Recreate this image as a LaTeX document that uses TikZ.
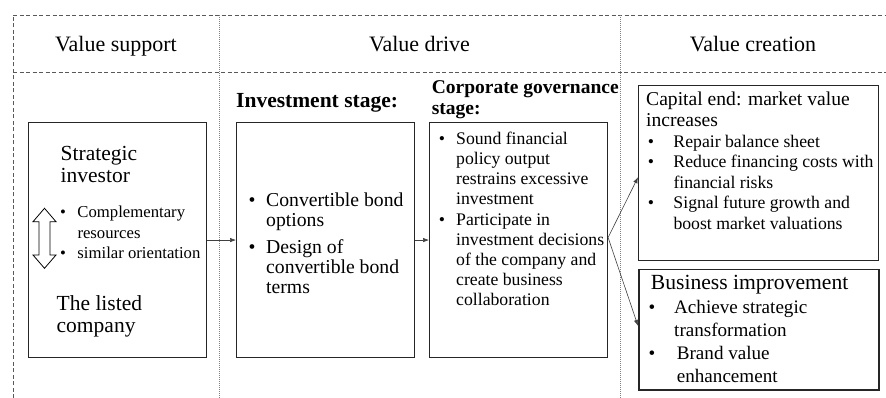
\documentclass[tikz,border=0pt]{standalone}
\usepackage{fontspec}
\usetikzlibrary{arrows.meta}
\setmainfont{Liberation Serif}
\newcommand{\bitem}[1]{\makebox[#1][l]{\textbullet}}
\newcommand{\bpad}[1]{\hspace*{#1}}
\newcommand{\fsz}[2]{\fontsize{#1}{#2}\selectfont}

\begin{document}
\begin{tikzpicture}[x=1pt,y=-1pt]
	\tikzstyle{frame}=[draw=black!65,dash pattern=on 4pt off 2.5pt,line width=0.8pt]
	\tikzstyle{col}=[draw=black!50,dash pattern=on 1pt off 1pt,line width=0.8pt]
	\tikzstyle{box}=[draw=black!85,line width=1.1pt,inner sep=0,anchor=north west]
	\tikzstyle{txt}=[inner sep=0,anchor=north west,align=left]
	\tikzstyle{edge}=[-{Latex[length=6pt,width=4.5pt]},draw=black!75,line width=0.6pt]
	
	\useasboundingbox (0,0) rectangle (886,398);
	
	% frame and column rules
	\draw[frame] (13,398) -- (13,15) -- (886,15);
	\draw[frame] (13,72) -- (886,72);
	\draw[col] (219,15) -- (219,398);
	\draw[col] (620,15) -- (620,398);
	
	% column heads
	\node [anchor=base,font=\fsz{22}{24}] (h0) at (116,52) {Value support};
	\node [anchor=base,font=\fsz{22}{24}] (h1) at (419.5,52) {Value drive};
	\node [anchor=base,font=\fsz{22}{24}] (h2) at (753,52) {Value creation};
	
	% boxes
	\node [box,minimum width=178pt,minimum height=235pt] (sup) at (28,122) {};
	\node [box,minimum width=178pt,minimum height=235pt] (inv) at (236,122) {};
	\node [box,minimum width=178pt,minimum height=235pt] (gov) at (429,122) {};
	\node [box,minimum width=240pt,minimum height=175pt] (cap) at (638,85) {};
	\node [box,line width=1.6pt,minimum width=240pt,minimum height=120.5pt] (bus) at (638,268.5) {};
	
	% value support
	\node [txt,font=\fsz{21.5}{22}] (si) at (60.5,145.9) {Strategic\\investor};
	\draw[line width=0.8pt] (44.5,208.3) -- (56,221.7) -- (50,221.7) -- (50,255) -- (56,255)
		-- (44.5,268.3) -- (33,255) -- (39,255) -- (39,221.7) -- (33,221.7) -- cycle;
	\node [txt,font=\fsz{16.7}{20.5}] (sr) at (59.8,205.9)
		{\bitem{17.5pt}Complementary\\\bpad{17.5pt}resources\\\bitem{17.5pt}similar orientation};
	\node [txt,font=\fsz{21.5}{22}] (lc) at (56.5,295.4) {The listed\\company};
	
	% value drive
	\node [anchor=base west,inner sep=0,font=\bfseries\fsz{21.5}{24}] (t1) at (236,108) {Investment stage:};
	\node [txt,font=\fsz{19.7}{20}] (iv) at (248.3,192.5)
		{\bitem{17.7pt}Convertible bond\\\bpad{17.7pt}options\\[7pt]
		 \bitem{17.7pt}Design of\\\bpad{17.7pt}convertible bond\\\bpad{17.7pt}terms};
	\node [txt,font=\bfseries\fsz{19.5}{21}] (t2) at (431.7,80.5) {Corporate governance\\stage:};
	\node [txt,font=\fsz{17.7}{20}] (gv) at (438.6,132)
		{\bitem{17.4pt}Sound financial\\\bpad{17.4pt}policy output\\\bpad{17.4pt}restrains excessive\\\bpad{17.4pt}investment\\[1pt]
		 \bitem{17.4pt}Participate in\\\bpad{17.4pt}investment decisions\\\bpad{17.4pt}of the company and\\\bpad{17.4pt}create business\\\bpad{17.4pt}collaboration};
	
	% value creation
	\node [txt,font=\fsz{19.6}{20.7}] (ce) at (646,91.7) {Capital end: market value\\increases};
	\node [txt,font=\fsz{17.7}{20.5}] (cl) at (647.6,134.7)
		{\bitem{25.7pt}Repair balance sheet\\\bitem{25.7pt}Reduce financing costs with\\\bpad{25.7pt}financial risks\\
		 \bitem{25.7pt}Signal future growth and\\\bpad{25.7pt}boost market valuations};
	\node [anchor=base west,inner sep=0,font=\fsz{21.6}{24}] (bi) at (650.7,289.3) {Business improvement};
	\node [txt,font=\fsz{19.1}{22.8}] (bl) at (648.4,300.3)
		{\bitem{25.6pt}Achieve strategic\\\bpad{25.6pt}transformation\\
		 \bitem{28.3pt}Brand value\\\bpad{28.3pt}enhancement};
	
	\draw[edge] (sup)--(inv);
	\draw[edge] (inv)--(gov);
	\draw[edge] ([yshift=2.5pt]gov.east)--([yshift=-4.2pt]cap.west);
	\draw[edge] ([yshift=2.5pt]gov.east)--([yshift=3.7pt]bus.west);
\end{tikzpicture}
\end{document}
